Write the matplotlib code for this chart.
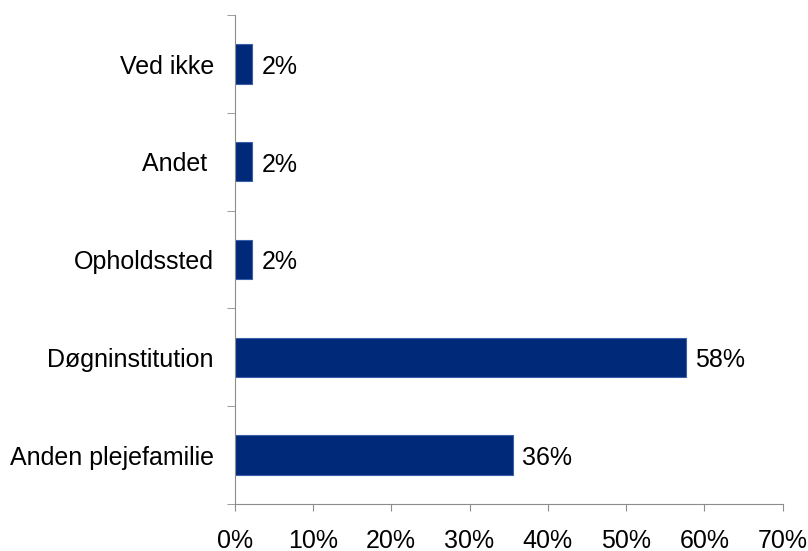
import matplotlib.pyplot as plt
import numpy as np

kategorier = ["Anden plejefamilie", "Døgninstitution", "Opholdssted", "Andet ", "Ved ikke"]
andele = [35.5, 57.6, 2.2, 2.2, 2.2]
etiketter = ["36%", "58%", "2%", "2%", "2%"]
xtick_vals = [0, 10, 20, 30, 40, 50, 60, 70]

plt.rcParams['font.family'] = ['Liberation Sans', 'DejaVu Sans']

fig = plt.figure(figsize=(8.08, 5.51), dpi=100)
ax = fig.add_axes([0.2905, 0.0855, 0.678, 0.887])

pos = np.arange(len(kategorier))
ax.barh(pos, andele, height=0.40, color="#00297A", edgecolor="#3A5FA8", lw=0.8, zorder=2)
for p, v, t in zip(pos, andele, etiketter):
    ax.text(v + 1.2, p - 0.03, t, va="center", ha="left", fontsize=18, color="black")

ax.set_xlim(0, 70)
ax.set_ylim(-0.5, len(kategorier) - 0.5)
ax.set_xticks(xtick_vals)
ax.set_xticklabels([f"{v}%" for v in xtick_vals], fontsize=18)
ax.set_yticks(pos)
ax.set_yticklabels(kategorier, fontsize=18)
ax.tick_params(axis="y", length=0, pad=15)
ax.set_yticks(np.arange(-0.5, len(kategorier), 1), minor=True)
ax.tick_params(axis="y", which="minor", length=6, color="#8C8C8C")
ax.tick_params(axis="x", length=5, color="#8C8C8C", pad=13)

for s in ["top", "right"]:
    ax.spines[s].set_visible(False)
for s in ["left", "bottom"]:
    ax.spines[s].set_color("#8C8C8C")

fig.savefig("out.png", dpi=100)
